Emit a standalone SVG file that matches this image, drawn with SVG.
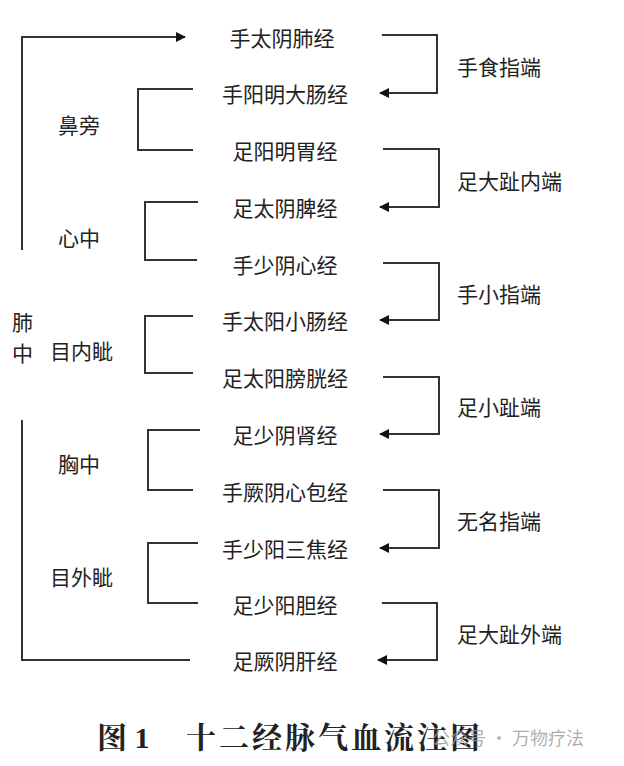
<svg xmlns="http://www.w3.org/2000/svg" width="624" height="766" viewBox="0 0 624 766">
<defs>
<marker id="ah" markerWidth="10" markerHeight="10" refX="9" refY="5" orient="auto" markerUnits="userSpaceOnUse"><path d="M0,0 L10,5 L0,10 Z" fill="#111"/></marker>
<style>
.t{font-family:"Noto Sans CJK SC",sans-serif;font-size:21px;fill:#222;text-anchor:middle;dominant-baseline:central}
.l{font-family:"Noto Sans CJK SC",sans-serif;font-size:21px;fill:#222;dominant-baseline:central}
.c{stroke:#333;stroke-width:2;fill:none}
.cap{font-family:Liberation Serif,'Noto Serif CJK SC','Noto Sans CJK SC',serif;font-weight:bold;font-size:30px;fill:#222}
</style>
</defs>
<rect width="624" height="766" fill="#fff"/>
<g id="nodes">
<g id="n1"><text class="t" x="282" y="37">手太阴肺经</text></g>
<g id="n2"><text class="t" x="285" y="93">手阳明大肠经</text></g>
<g id="n3"><text class="t" x="285" y="150">足阳明胃经</text></g>
<g id="n4"><text class="t" x="285" y="207">足太阴脾经</text></g>
<g id="n5"><text class="t" x="285" y="264">手少阴心经</text></g>
<g id="n6"><text class="t" x="285" y="320">手太阳小肠经</text></g>
<g id="n7"><text class="t" x="285" y="377">足太阳膀胱经</text></g>
<g id="n8"><text class="t" x="285" y="434">足少阴肾经</text></g>
<g id="n9"><text class="t" x="285" y="491">手厥阴心包经</text></g>
<g id="n10"><text class="t" x="285" y="548">手少阳三焦经</text></g>
<g id="n11"><text class="t" x="285" y="604">足少阳胆经</text></g>
<g id="n12"><text class="t" x="285" y="660">足厥阴肝经</text></g>
</g>
<g id="labels">
<text class="l" x="457" y="66">手食指端</text>
<text class="l" x="457" y="180">足大趾内端</text>
<text class="l" x="457" y="293">手小指端</text>
<text class="l" x="457" y="406">足小趾端</text>
<text class="l" x="457" y="520">无名指端</text>
<text class="l" x="457" y="633">足大趾外端</text>
<text class="l" x="58" y="124">鼻旁</text>
<text class="l" x="58" y="237">心中</text>
<text class="l" x="50" y="350">目内眦</text>
<text class="l" x="58" y="463">胸中</text>
<text class="l" x="50" y="576">目外眦</text>
<text class="l" x="12" y="321">肺</text>
<text class="l" x="12" y="352">中</text>
</g>
<g id="connectors">
<path class="c" d="M22,250 V37 H185" marker-end="url(#ah)"/>
<path class="c" d="M22,420 V660 H190"/>
<path class="c" d="M382,35 H437 V93 H380" marker-end="url(#ah)"/>
<path class="c" d="M383,149 H439 V207 H380" marker-end="url(#ah)"/>
<path class="c" d="M383,263 H439 V320 H380" marker-end="url(#ah)"/>
<path class="c" d="M383,377 H439 V434 H380" marker-end="url(#ah)"/>
<path class="c" d="M383,490 H439 V548 H380" marker-end="url(#ah)"/>
<path class="c" d="M382,603 H437 V660 H378" marker-end="url(#ah)"/>
<path class="c" d="M193,89 H138 V150 H193"/>
<path class="c" d="M198,202 H145 V260 H197"/>
<path class="c" d="M193,316 H145 V373 H193"/>
<path class="c" d="M200,430 H148 V490 H193"/>
<path class="c" d="M198,543 H148 V603 H198"/>
</g>
<text class="cap" x="97" y="748">图 1</text>
<text class="cap" x="186" y="748" letter-spacing="3">十二经脉气血流注图</text>
<text x="432" y="745" font-family="'Noto Sans CJK SC',sans-serif" font-size="18" fill="#999" fill-opacity="0.8">公众号 · 万物疗法</text>
</svg>
